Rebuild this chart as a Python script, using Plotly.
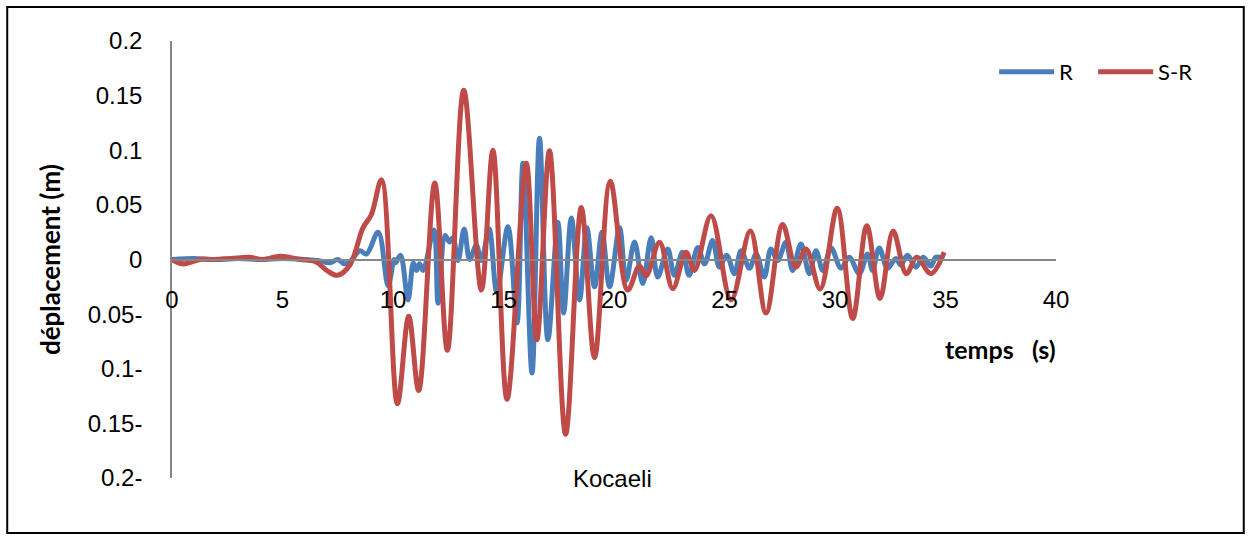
import plotly.graph_objects as go

# ---- data ----
t_sr = [0, 0.5, 1.27, 1.9, 2.7, 3.5, 4.1, 4.9, 5.8, 6.5, 7.0, 7.48, 8.05, 8.64, 9.02, 9.48,
        10.2, 10.71, 11.16, 11.89, 12.46, 13.2, 14.0, 14.52, 15.16, 16.03, 16.51, 17.08,
        17.81, 18.52, 19.12, 19.83, 20.62, 21.15, 21.45, 22.06, 22.66, 23.26, 23.64, 24.39,
        25.3, 26.17, 26.88, 27.63, 28.23, 28.69, 29.33, 30.1, 30.8, 31.44, 32.04, 32.63,
        33.23, 33.7, 34.34, 34.94]
v_sr = [0, -0.004, 0, 0, 0.001, 0.002, 0, 0.003, 0, -0.002, -0.01, -0.0145, -0.005, 0.029,
        0.041, 0.073, -0.132, -0.052, -0.120, 0.070, -0.083, 0.155, -0.028, 0.100, -0.128,
        0.088, -0.0735, 0.0995, -0.160, 0.0475, -0.090, 0.0717, -0.028, -0.006, -0.015,
        0.0157, -0.0266, 0.0066, -0.01, 0.040, -0.037, 0.026, -0.049, 0.032, -0.007, 0.0097,
        -0.027, 0.047, -0.054, 0.031, -0.0357, 0.026, -0.013, 0.002, -0.013, 0.0066]

t_r = [0, 1.0, 2.0, 3.0, 4.0, 5.0, 6.0, 6.6, 7.14, 7.5, 7.8, 8.1, 8.5, 8.8, 9.33, 9.78,
       10.05, 10.12, 10.34, 10.68, 10.92, 11.06, 11.2, 11.36, 11.85, 12.04, 12.36, 12.55,
       12.71, 12.94, 13.22, 13.47, 13.77, 14.0, 14.35, 14.7, 15.2, 15.61, 15.88, 16.29,
       16.63, 17.01, 17.46, 17.72, 18.07, 18.44, 18.77, 19.12, 19.46, 19.8, 20.25, 20.55,
       20.93, 21.3, 21.68, 21.98, 22.43, 22.73, 23.1, 23.4, 23.79, 24.1, 24.46, 24.77,
       25.1, 25.45, 25.75, 26.13, 26.43, 26.8, 27.1, 27.4, 27.78, 28.08, 28.46, 28.84,
       29.14, 29.45, 29.82, 30.27, 30.64, 31.1, 31.47, 31.7, 32.0, 32.38, 32.75, 32.98,
       33.28, 33.66, 33.99, 34.34, 34.56, 34.94]
v_r = [0, 0.001, 0, 0.001, 0, 0.001, 0, -0.001, -0.003, 0, -0.004, -0.001, 0.008, 0.005,
       0.025, -0.024, 0.0, -0.003, 0.004, -0.037, -0.003, -0.01, -0.004, -0.01, 0.027,
       -0.04, 0.022, 0.016, 0.02, -0.001, 0.028, 0.0, 0.013, -0.001, 0.028, -0.03, 0.03,
       -0.058, 0.088, -0.104, 0.111, -0.0735, 0.034, -0.049, 0.038, -0.037, 0.029, -0.025,
       0.025, -0.025, 0.029, -0.019, 0.016, -0.022, 0.020, -0.016, 0.0097, -0.0145, 0.0066,
       -0.0145, 0.011, -0.004, 0.0175, -0.007, 0.004, -0.013, 0.008, -0.008, 0.005, -0.016,
       0.0097, -0.001, 0.0157, -0.01, 0.0142, -0.013, 0.008, -0.01, 0.0106, -0.008, 0.002,
       -0.013, 0.005, -0.01, 0.0106, -0.008, 0.001, -0.005, 0.004, -0.007, 0.002, -0.006,
       0.002, 0.001]

x_ticks = [0, 5, 10, 15, 20, 25, 30, 35, 40]
y_ticks = [-0.2, -0.15, -0.1, -0.05, 0, 0.05, 0.1, 0.15, 0.2]
y_tick_text = ["0.2-", "0.15-", "0.1-", "0.05-", "0", "0.05", "0.1", "0.15", "0.2"]

fig = go.Figure()
fig.add_trace(go.Scatter(x=t_r, y=v_r, name="R", mode="lines",
                         line=dict(color="#4A7EBB", width=5, shape="spline", smoothing=1.0)))
fig.add_trace(go.Scatter(x=t_sr, y=v_sr, name="S-R", mode="lines",
                         line=dict(color="#BE4B48", width=5, shape="spline", smoothing=1.0)))

grey = "#868686"
fig.update_layout(
    width=1249, height=536,
    margin=dict(l=172, r=193, t=41, b=58, autoexpand=False),
    paper_bgcolor="white", plot_bgcolor="white",
    font=dict(family="Liberation Sans, Arial, sans-serif", size=24, color="black"),
    showlegend=True,
    legend=dict(orientation="h", x=0.930, y=0.929, xanchor="left", yanchor="middle",
                font=dict(family="Lato, sans-serif", size=22, color="black"),
                itemwidth=55, entrywidth=29, entrywidthmode="pixels",
                bgcolor="rgba(0,0,0,0)", tracegroupgap=0),
    xaxis=dict(range=[0, 40], tickvals=x_ticks, ticktext=[str(v) for v in x_ticks],
               showgrid=False, zeroline=False, showline=True, linecolor=grey, linewidth=1.5,
               anchor="free", position=0.5, ticks="", ticklabelstandoff=19,
               tickfont=dict(size=24)),
    yaxis=dict(range=[-0.2, 0.2], tickvals=y_ticks, ticktext=y_tick_text,
               showgrid=False, zeroline=False, showline=True, linecolor=grey, linewidth=1.5,
               ticks="", ticklabelstandoff=23, tickfont=dict(size=24)),
    shapes=[dict(type="rect", xref="paper", yref="paper",
                 x0=-0.1864, x1=1.2124, y0=-0.1259, y1=1.0778,
                 line=dict(color="black", width=2), fillcolor="rgba(0,0,0,0)")],
    annotations=[
        dict(text="<b>déplacement (m)</b>", xref="paper", yref="paper", x=-0.1379, y=0.499,
             textangle=-90, showarrow=False, xanchor="center", yanchor="middle",
             font=dict(family="Lato, sans-serif", size=26)),
        dict(text="<b>temps\u00a0\u00a0\u00a0(s)</b>", xref="paper", yref="paper", x=0.937, y=0.295,
             showarrow=False, xanchor="center", yanchor="middle",
             font=dict(family="Lato, sans-serif", size=25)),
        dict(text="Kocaeli", xref="paper", yref="paper", x=0.498, y=0.0,
             showarrow=False, xanchor="center", yanchor="middle",
             font=dict(family="Liberation Sans, Arial, sans-serif", size=24)),
    ],
)

fig.write_html("out.html", config={"displayModeBar": False},
               post_script="document.body.style.margin='0';")
